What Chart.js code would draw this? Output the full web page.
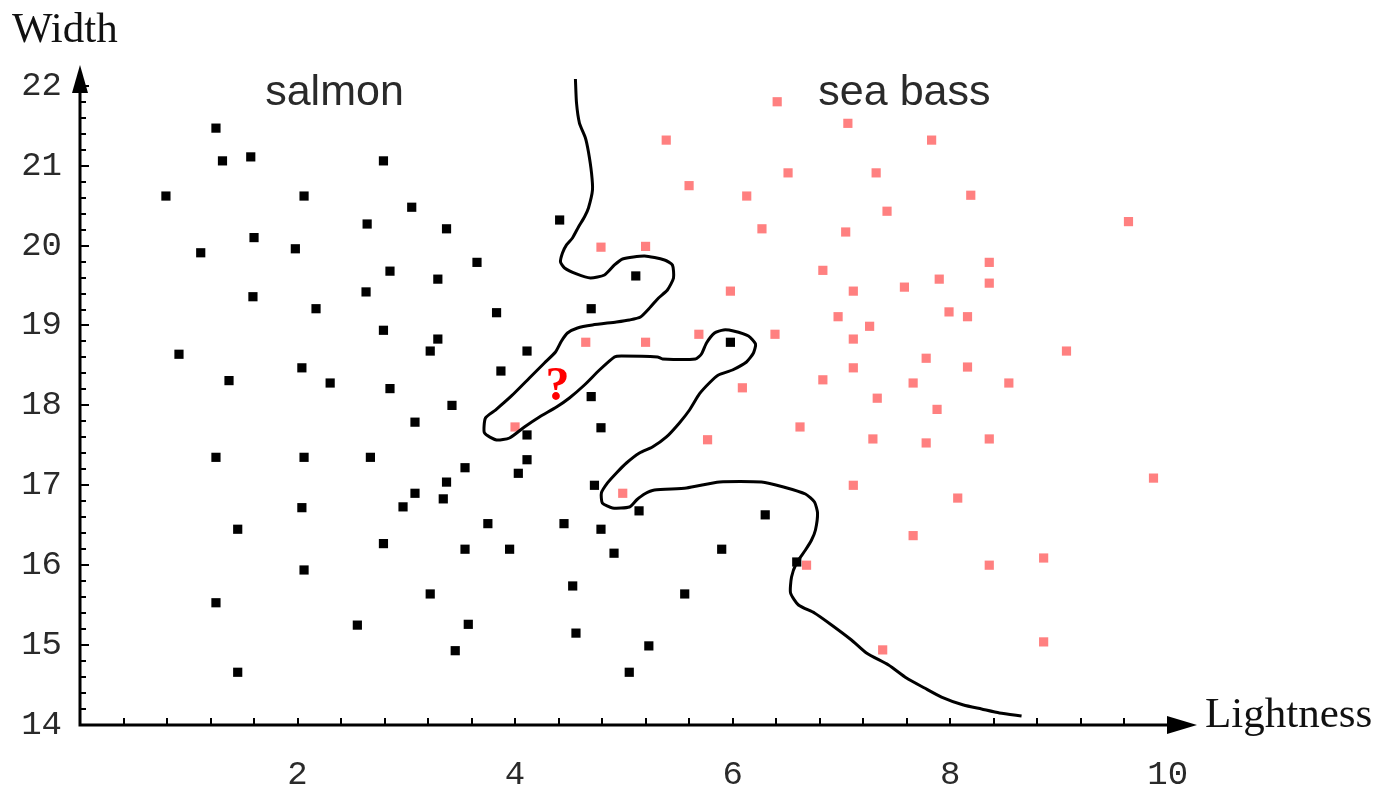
<!DOCTYPE html>
<html>
<head>
<meta charset="utf-8">
<script src="https://cdn.jsdelivr.net/npm/chart.js@4.4.0/dist/chart.umd.min.js"></script>
<style>
html,body{margin:0;padding:0;background:#fff;overflow:hidden;}
#wrap{width:1391px;height:787px;position:relative;}
</style>
</head>
<body>
<div id="wrap"><canvas id="c" width="1391" height="787"></canvas></div>
<script>
// ---------- data ----------
const xAxisTitle = 'Lightness';
const yAxisTitle = 'Width';
const classNames = ['salmon', 'sea bass'];
const classLabelLightness = [2.34, 7.58];
const classLabelWidth = [21.76, 21.76];
const queryLightness = [4.39];
const queryWidth = [18.07];
const queryLabel = ['?'];
const xTickValues = [2, 4, 6, 8, 10];
const yTickValues = [14, 15, 16, 17, 18, 19, 20, 21, 22];

const salmonLightness = [1.25,1.31,1.57,2.79,0.79,2.06,3.05,2.64,3.37,1.60,1.11,1.98,4.41,3.65,2.85,3.29,2.63,1.59,2.17,3.83,4.70,5.11,2.79,3.29,3.22,4.11,0.91,2.04,3.87,1.37,2.30,2.85,4.70,3.42,3.08,4.79,4.11,1.25,2.06,2.67,3.54,4.11,4.03,3.37,4.73,3.08,3.34,2.97,5.14,2.04,1.45,3.75,4.45,4.79,6.30,2.79,3.54,3.95,4.91,5.90,2.06,4.53,3.22,5.56,1.25,2.55,3.57,4.56,3.45,5.23,1.45,5.05,5.98,6.59];
const salmonWidth = [21.47,21.06,21.11,21.06,20.62,20.62,20.48,20.27,20.21,20.10,19.91,19.96,20.32,19.79,19.68,19.58,19.42,19.36,19.21,19.16,19.21,19.62,18.94,18.83,18.68,18.68,18.64,18.47,18.43,18.31,18.28,18.21,18.11,18.00,17.79,17.72,17.63,17.35,17.35,17.35,17.22,17.32,17.15,17.04,17.00,16.90,16.83,16.73,16.68,16.72,16.45,16.52,16.52,16.45,16.63,16.27,16.20,16.20,16.15,16.20,15.94,15.74,15.64,15.64,15.53,15.25,15.26,15.15,14.93,14.99,14.66,14.66,18.79,16.04];

const seaBassLightness = [6.41,5.39,6.51,5.60,6.13,6.27,4.79,5.20,6.83,5.98,6.97,4.65,5.20,5.69,6.39,6.83,6.09,4.00,5.77,6.62,4.99,6.68,7.06,7.83,7.32,8.19,7.42,7.04,9.64,8.36,7.90,8.36,7.11,7.58,7.99,8.16,7.26,7.11,9.07,7.78,7.11,8.16,7.66,8.54,7.33,7.88,7.29,7.78,8.36,9.87,7.11,8.07,7.66,8.36,8.86,8.86,7.38];
const seaBassWidth = [21.80,21.32,20.91,20.75,20.62,20.21,19.98,19.99,19.69,19.43,19.11,18.79,18.79,18.89,18.89,18.32,18.22,17.73,17.57,17.73,16.90,16.00,21.53,21.32,20.91,20.63,20.43,20.17,20.30,19.79,19.58,19.53,19.43,19.48,19.17,19.11,18.99,18.83,18.68,18.59,18.47,18.48,18.28,18.28,18.09,17.95,17.58,17.53,17.58,17.09,17.00,16.84,16.37,16.00,16.09,15.04,14.94];

const boundaryLightness = [4.555,4.565,4.592,4.647,4.675,4.703,4.712,4.675,4.638,4.583,4.528,4.473,4.436,4.418,4.455,4.565,4.693,4.822,4.914,4.988,5.190,5.374,5.447,5.457,5.401,5.319,5.245,5.153,5.052,4.932,4.712,4.574,4.482,4.427,4.372,4.270,4.132,3.967,3.820,3.728,3.719,3.829,3.949,4.086,4.224,4.381,4.500,4.638,4.776,4.914,4.978,5.310,5.356,5.659,5.714,5.760,5.834,5.916,6.008,6.146,6.211,6.192,6.128,5.999,5.870,5.786,5.695,5.604,5.511,5.392,5.263,5.144,5.024,4.932,4.850,4.794,4.803,4.896,5.052,5.117,5.190,5.282,5.576,5.880,6.266,6.468,6.670,6.753,6.781,6.762,6.726,6.670,6.588,6.542,6.533,6.606,6.753,6.910,7.093,7.231,7.434,7.599,7.765,7.921,8.123,8.289,8.454,8.657];
const boundaryWidth = [22.085,21.785,21.534,21.347,21.171,20.909,20.696,20.471,20.358,20.233,20.095,20.008,19.907,19.795,19.720,19.645,19.594,19.632,19.757,19.832,19.870,19.820,19.757,19.594,19.444,19.344,19.231,19.106,19.069,19.044,19.006,18.969,18.906,18.806,18.668,18.531,18.343,18.118,17.942,17.842,17.655,17.567,17.592,17.730,17.855,17.980,18.093,18.255,18.443,18.606,18.618,18.606,18.581,18.581,18.643,18.781,18.906,18.944,18.931,18.869,18.768,18.656,18.543,18.443,18.380,18.280,18.143,17.942,17.780,17.605,17.479,17.404,17.279,17.154,17.029,16.904,16.778,16.716,16.728,16.816,16.891,16.941,16.966,17.041,17.041,16.979,16.891,16.791,16.653,16.441,16.315,16.190,16.028,15.852,15.652,15.502,15.402,15.252,15.064,14.901,14.751,14.588,14.463,14.350,14.250,14.200,14.150,14.113];

// ---------- chart ----------
const toPts = (xs, ys) => xs.map((v, i) => ({x: v, y: ys[i]}));

const axisDecor = {
  id: 'axisDecor',
  afterDatasetsDraw(chart) {
    const {ctx, scales: {x, y}} = chart;
    const x0 = x.getPixelForValue(x.min);
    const y0 = y.getPixelForValue(y.min);
    const xEnd = x.getPixelForValue(x.max);
    const yTop = y.getPixelForValue(y.max);
    ctx.save();
    ctx.strokeStyle = '#000';
    ctx.fillStyle = '#000';
    ctx.lineWidth = 3;
    ctx.lineCap = 'butt';
    ctx.beginPath();
    ctx.moveTo(x0, y0 + 1.5); ctx.lineTo(x0, yTop + 12);
    ctx.moveTo(x0 - 1.5, y0); ctx.lineTo(xEnd - 12, y0);
    ctx.stroke();
    // arrow heads
    ctx.beginPath();
    ctx.moveTo(x0, yTop); ctx.lineTo(x0 + 8, yTop + 28); ctx.lineTo(x0 - 8, yTop + 28); ctx.closePath();
    ctx.fill();
    ctx.beginPath();
    ctx.moveTo(xEnd, y0); ctx.lineTo(xEnd - 30, y0 - 9); ctx.lineTo(xEnd - 30, y0 + 9); ctx.closePath();
    ctx.fill();
    // minor ticks (inside)
    ctx.lineWidth = 2;
    ctx.beginPath();
    for (let k = 1; k <= 24; k++) {
      const px = Math.round(x.getPixelForValue(x.min + k * 0.4));
      ctx.moveTo(px, y0); ctx.lineTo(px, y0 - 7);
    }
    for (let k = 1; k <= 40; k++) {
      const py = Math.round(y.getPixelForValue(y.min + k * 0.2));
      const len = (k % 5 === 0) ? 9 : 6;
      ctx.moveTo(x0, py); ctx.lineTo(x0 + len, py);
    }
    ctx.stroke();
    // axis titles
    ctx.fillStyle = '#111';
    ctx.font = '43px "Liberation Serif", "DejaVu Serif", serif';
    ctx.textAlign = 'left';
    ctx.textBaseline = 'alphabetic';
    ctx.fillText(yAxisTitle, 12, 42);
    ctx.fillText(xAxisTitle, xEnd + 8, y0 + 2);
    // class labels
    ctx.fillStyle = '#2a2a2a';
    ctx.font = '43px "Liberation Sans", Arial, sans-serif';
    ctx.textAlign = 'center';
    classNames.forEach((n, i) => {
      ctx.fillText(n, x.getPixelForValue(classLabelLightness[i]), y.getPixelForValue(classLabelWidth[i]));
    });
    // query point
    ctx.fillStyle = '#ff0000';
    ctx.font = 'bold 48px "Liberation Serif", serif';
    queryLabel.forEach((t, i) => {
      ctx.fillText(t, x.getPixelForValue(queryLightness[i]), y.getPixelForValue(queryWidth[i]));
    });
    ctx.restore();
  }
};

const tickFont = {family: '"Liberation Mono", "DejaVu Sans Mono", monospace', size: 34};

new Chart(document.getElementById('c'), {
  type: 'scatter',
  data: {
    datasets: [
      {
        label: 'decision boundary',
        data: toPts(boundaryLightness, boundaryWidth),
        showLine: true,
        borderColor: '#000',
        borderWidth: 3,
        pointRadius: 0,
        tension: 0.2,
        fill: false,
        order: 0
      },
      {
        label: classNames[0],
        data: toPts(salmonLightness, salmonWidth),
        pointStyle: 'rect',
        pointRadius: 6.5,
        backgroundColor: '#000',
        borderColor: '#000',
        borderWidth: 0,
        order: 2
      },
      {
        label: classNames[1],
        data: toPts(seaBassLightness, seaBassWidth),
        pointStyle: 'rect',
        pointRadius: 6.5,
        backgroundColor: '#ff8080',
        borderColor: '#ff8080',
        borderWidth: 0,
        order: 1
      }
    ]
  },
  options: {
    responsive: false,
    animation: false,
    devicePixelRatio: 1,
    layout: {padding: {top: 65, right: 194, left: 0, bottom: 0}},
    plugins: {legend: {display: false}, tooltip: {enabled: false}},
    elements: {point: {hoverRadius: 6.5}},
    scales: {
      x: {
        type: 'linear',
        position: 'bottom',
        min: 0,
        max: 10.27,
        grid: {display: false, drawTicks: false},
        border: {display: false},
        afterBuildTicks: s => { s.ticks = xTickValues.map(v => ({value: v})); },
        afterFit: s => { s.height = 62; },
        ticks: {
          autoSkip: false, maxRotation: 0, padding: 30,
          color: '#2a2a2a', font: tickFont,
          callback: v => String(v)
        }
      },
      y: {
        type: 'linear',
        min: 14,
        max: 22.26,
        grid: {display: false, drawTicks: false},
        border: {display: false},
        afterBuildTicks: s => { s.ticks = yTickValues.map(v => ({value: v})); },
        afterFit: s => { s.width = 80; },
        ticks: {
          autoSkip: false, padding: 18,
          color: '#2a2a2a', font: tickFont,
          callback: v => String(v)
        }
      }
    }
  },
  plugins: [axisDecor]
});
</script>
</body>
</html>
